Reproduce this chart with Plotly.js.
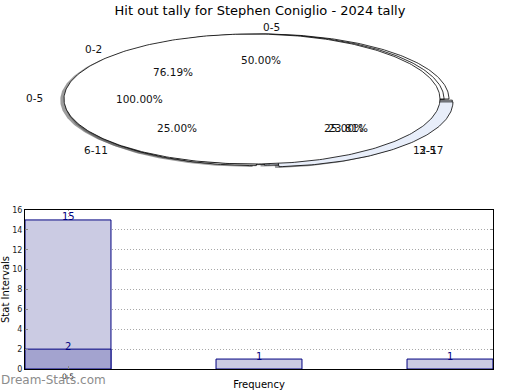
<!DOCTYPE html>
<html><head><meta charset="utf-8">
<script src="https://cdn.plot.ly/plotly-3.0.1.min.js"></script>
<style>html,body{margin:0;padding:0;background:#fff}#chart{width:520px;height:390px}</style>
</head><body><div id="chart"></div>
<script>
const chartTitle = 'Hit out tally for Stephen Coniglio - 2024 tally';
// pie rings (drawn on top of each other)
const pieALabels = ['0-5'];
const pieAValues = [21];
const pieBLabels = ['0-2', '3-5'];
const pieBValues = [16, 5];
const pieCLabels = ['0-5', '6-11', '12-17'];
const pieCValues = [2, 1, 1];
// bar chart
const barX = [0.5, 1.5, 2.5];
const barLight = [15, 1, 1];
const barDarkX = [0.5];
const barDark = [2];
const xTickVals = [0.5];
const xTickText = ['0.5'];
const yTitle = 'Stat Intervals';
const xTitle = 'Frequency';
const watermark = 'Dream-Stats.com';

// ---- styling / geometry (not data) ----
const FONT = 'DejaVu Sans';
const CY = 99, RX = 188, RY = 65;
const pies = [
  {labels: pieCLabels, values: pieCValues, cx: 261, explode: [0, 0.035, 0.025], colors: ['#ffffff', '#ffffff', '#e8eefa']},
  {labels: pieBLabels, values: pieBValues, cx: 256, explode: [0, 0.065], colors: ['#ffffff', '#e8eefa']},
  {labels: pieALabels, values: pieAValues, cx: 252, explode: [0], colors: ['#ffffff']}
];

function wedges(p) {
  const total = p.values.reduce((a, b) => a + b, 0);
  let start = 0;
  return p.values.map((v, i) => {
    const span = v / total * 360;
    const mid = (start + span / 2) * Math.PI / 180;
    const e = p.explode[i] || 0;
    const ox = p.cx + e * RX * Math.cos(mid);
    const oy = CY - e * RY * Math.sin(mid);
    const xs = [], ys = [];
    const full = Math.abs(span - 360) < 1e-9;
    if (!full) { xs.push(ox); ys.push(oy); }
    const n = Math.max(2, Math.ceil(span));
    for (let k = 0; k <= n; k++) {
      const t = (start + span * k / n) * Math.PI / 180;
      xs.push(ox + RX * Math.cos(t));
      ys.push(oy - RY * Math.sin(t));
    }
    xs.push(xs[0]); ys.push(ys[0]);
    const w = {xs, ys, mid, ox, oy, color: p.colors[i], label: p.labels[i],
      pct: (v / total * 100).toFixed(2) + '%'};
    start += span;
    return w;
  });
}

const traces = [];
const annotations = [];
const allW = pies.map(wedges);

// shadows first (under all wedges)
allW.forEach(ws => ws.forEach(w => {
  const c = w.color === '#ffffff' ? 'rgba(77,77,77,0.55)' : 'rgba(70,71,75,0.55)';
  traces.push({type: 'scatter', mode: 'lines', xaxis: 'x2', yaxis: 'y2',
    x: w.xs.map(v => v - 0.02 * RX), y: w.ys.map(v => v + 0.02 * RY),
    fill: 'toself', fillcolor: c, line: {width: 0, color: c}, hoverinfo: 'skip', showlegend: false});
}));
allW.forEach(ws => ws.forEach(w => {
  traces.push({type: 'scatter', mode: 'lines', xaxis: 'x2', yaxis: 'y2',
    x: w.xs, y: w.ys, fill: 'toself', fillcolor: w.color,
    line: {width: 0.8, color: '#000000'}, hoverinfo: 'skip', showlegend: false});
}));
allW.forEach(ws => ws.forEach(w => {
  const c = Math.cos(w.mid), s = Math.sin(w.mid);
  annotations.push({xref: 'x2', yref: 'y2', x: w.ox + 1.1 * RX * c, y: w.oy - 1.1 * RY * s - 1,
    text: w.label, showarrow: false, xanchor: c > 0 ? 'left' : 'right', yanchor: 'middle',
    font: {family: FONT, size: 10.5, color: '#111'}});
  annotations.push({xref: 'x2', yref: 'y2', x: w.ox + 0.6 * RX * c, y: w.oy - 0.6 * RY * s,
    text: w.pct, showarrow: false, xanchor: 'center', yanchor: 'middle',
    font: {family: FONT, size: 10.5, color: '#111'}});
}));

// bars
traces.push({type: 'bar', x: barX, y: barLight, width: 0.45, xaxis: 'x', yaxis: 'y',
  marker: {color: '#cbcbe3', line: {color: '#000080', width: 1}}, hoverinfo: 'skip', showlegend: false});
traces.push({type: 'bar', x: barDarkX, y: barDark, width: 0.45, xaxis: 'x', yaxis: 'y',
  marker: {color: '#a3a3cf', line: {color: '#000080', width: 1}}, hoverinfo: 'skip', showlegend: false});
barX.forEach((x, i) => annotations.push({xref: 'x', yref: 'y', x: x, y: barLight[i], text: String(barLight[i]),
  showarrow: false, yanchor: 'middle', yshift: 3, font: {family: FONT, size: 10, color: '#000080'}}));
barDarkX.forEach((x, i) => annotations.push({xref: 'x', yref: 'y', x: x, y: barDark[i], text: String(barDark[i]),
  showarrow: false, yanchor: 'middle', yshift: 3, font: {family: FONT, size: 10, color: '#000080'}}));

annotations.push({xref: 'paper', yref: 'paper', x: -0.002, y: 10 / 390, text: watermark, showarrow: false,
  xanchor: 'left', yanchor: 'middle', font: {family: FONT, size: 12, color: '#8c8c8c'}});

const layout = {
  width: 520, height: 390, margin: {l: 0, r: 0, t: 0, b: 0},
  paper_bgcolor: '#fff', plot_bgcolor: 'rgba(0,0,0,0)', barmode: 'overlay', showlegend: false,
  title: {text: chartTitle, x: 0.5, xanchor: 'center', yref: 'container', y: 1 - 10 / 390, yanchor: 'middle',
    font: {family: FONT, size: 13, color: '#000'}},
  xaxis: {domain: [25 / 520, 493 / 520], range: [0.5 - 43 / 191, 2.5 + 43 / 191], anchor: 'y',
    tickvals: xTickVals, ticktext: xTickText, ticks: 'inside', ticklen: 3, tickcolor: '#888',
    tickfont: {family: FONT, size: 7.5, color: '#222'}, showgrid: true, gridcolor: '#a8a8a8', griddash: '1px,2px', gridwidth: 1,
    showline: true, linecolor: '#000', linewidth: 1, mirror: true, zeroline: false,
    title: {text: xTitle, standoff: 10, font: {family: FONT, size: 10, color: '#000'}}},
  yaxis: {domain: [21 / 390, 180 / 390], range: [0, 16], dtick: 2, anchor: 'x',
    ticks: 'inside', ticklen: 3, tickcolor: '#888', tickfont: {family: FONT, size: 8, color: '#222'},
    showgrid: true, gridcolor: '#a8a8a8', griddash: '1px,2px', gridwidth: 1,
    showline: true, linecolor: '#000', linewidth: 1, mirror: 'ticks', zeroline: false,
    title: {text: yTitle, standoff: 3, font: {family: FONT, size: 10, color: '#000'}}},
  xaxis2: {domain: [0, 1], range: [0, 520], anchor: 'y2', visible: false, fixedrange: true},
  yaxis2: {domain: [0, 1], range: [390, 0], anchor: 'x2', visible: false, fixedrange: true},
  annotations: annotations
};
Plotly.newPlot('chart', traces, layout, {staticPlot: true});
</script></body></html>
